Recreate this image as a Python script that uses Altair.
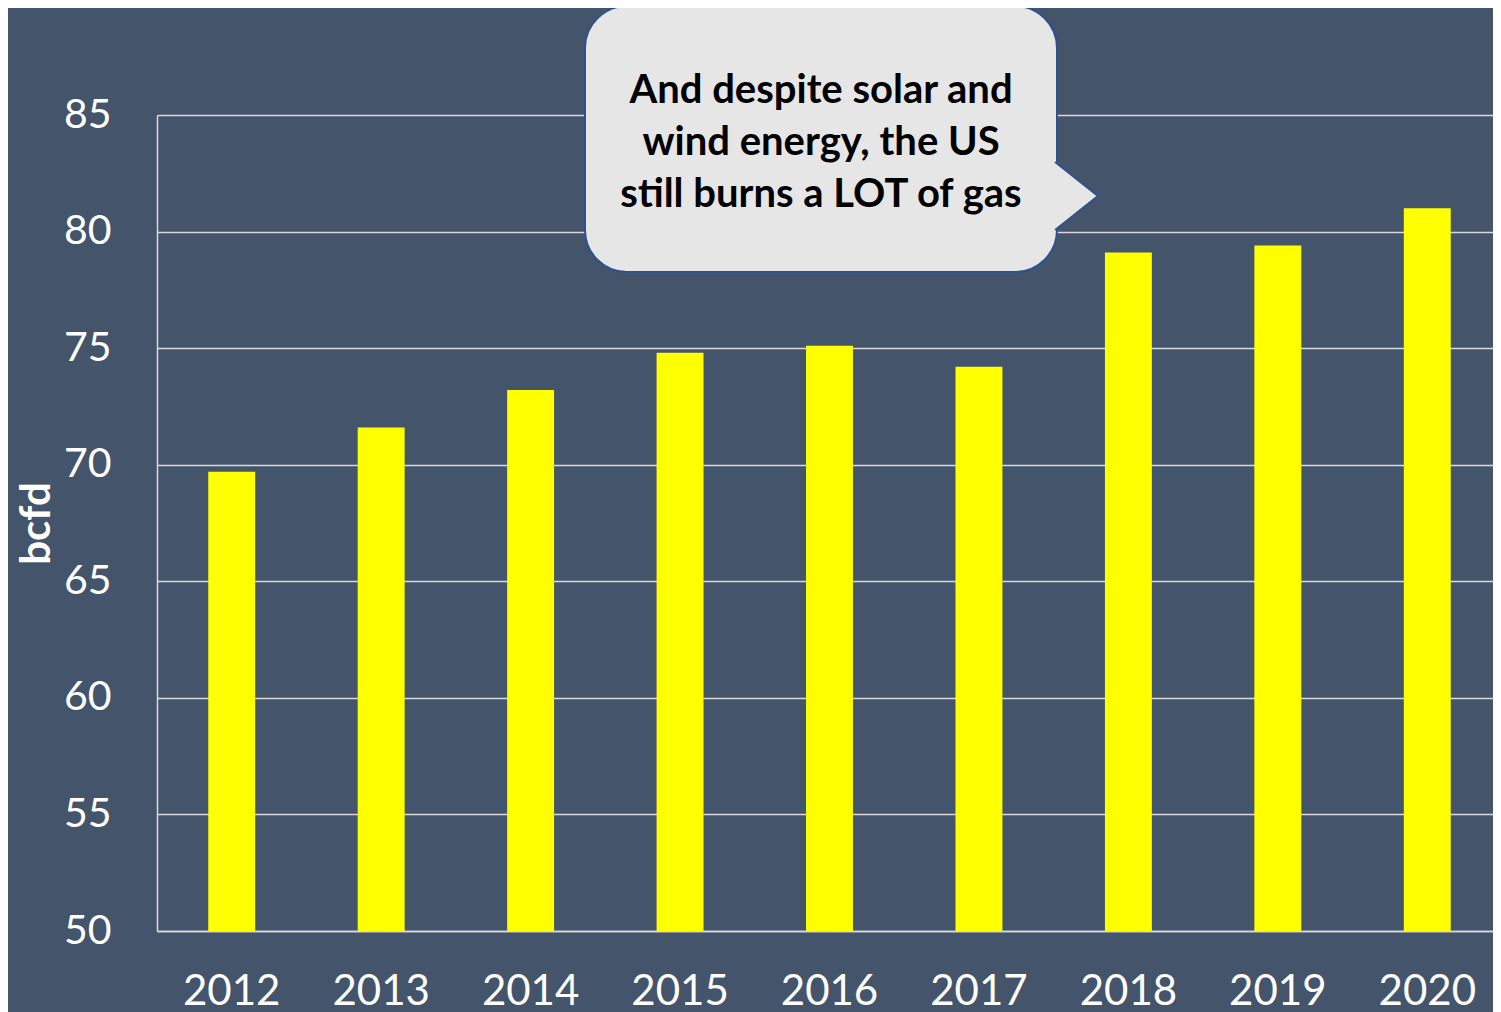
import altair as alt
import pandas as pd

years = ["2012", "2013", "2014", "2015", "2016", "2017", "2018", "2019", "2020"]
bcfd = [69.7, 71.6, 73.2, 74.8, 75.1, 74.2, 79.1, 79.4, 81.0]
y_ticks = [50, 55, 60, 65, 70, 75, 80, 85]
callout_lines = ["And despite solar and", "wind energy, the US", "still burns a LOT of gas"]

BG = "#44546A"
GRID = "#D9D9D9"
FONT = "Lato"

df = pd.DataFrame({"year": years, "bcfd": bcfd})

bars = alt.Chart(df).mark_bar(color="#FFFF00", clip=True).encode(
    x=alt.X(
        "year:N",
        sort=years,
        scale=alt.Scale(paddingInner=0.686, paddingOuter=0.343, range=[0, 1345]),
        axis=alt.Axis(
            title=None, labelAngle=0, labelFontSize=42, labelColor="white",
            labelFont=FONT, labelPadding=40, ticks=False, domainColor=GRID,
            domainWidth=1.5, grid=False,
        ),
    ),
    y=alt.Y(
        "bcfd:Q",
        scale=alt.Scale(domain=[50, 85], nice=False, zero=False),
        axis=alt.Axis(
            title="bcfd", values=y_ticks, labelFontSize=41, labelColor="white",
            labelFont=FONT, labelPadding=46, ticks=False, domainColor=GRID,
            domainWidth=1.5, grid=True, gridColor=GRID, gridWidth=1.5,
            titleFont=FONT, titleFontSize=42, titleFontWeight="bold",
            titleColor="white", titlePadding=5,
        ),
    ),
)

one = alt.Data(values=[{}])

box = alt.Chart(one).mark_rect(
    fill="#E7E6E6", stroke="#2F528F", strokeWidth=2, cornerRadius=42
).encode(
    x=alt.value(428), x2=alt.value(900), y=alt.value(-109), y2=alt.value(157)
)

pointer = alt.Chart(one).mark_point(
    shape="M -0.66 -1 L 0.6 0 L -0.66 1",
    filled=True, fill="#E7E6E6", stroke="#2F528F", strokeWidth=2, opacity=1,
    fillOpacity=1,
).encode(
    x=alt.value(920.5), y=alt.value(81), size=alt.value(4624)
)

label = alt.Chart(one).mark_text(
    font=FONT, fontSize=40, fontWeight="bold", color="black",
    lineHeight=52, align="center", baseline="middle",
).encode(
    x=alt.value(664), y=alt.value(-24), text=alt.value(callout_lines)
)

chart = alt.layer(bars, box, pointer, label).properties(
    width=1336, height=816,
    autosize=alt.AutoSizeParams(type="none"),
    padding={"left": 149, "top": 107, "right": 0, "bottom": 81},
    background=BG,
).configure_view(stroke=None)

chart.save("out.html", embed_options={"renderer": "svg", "actions": False})
